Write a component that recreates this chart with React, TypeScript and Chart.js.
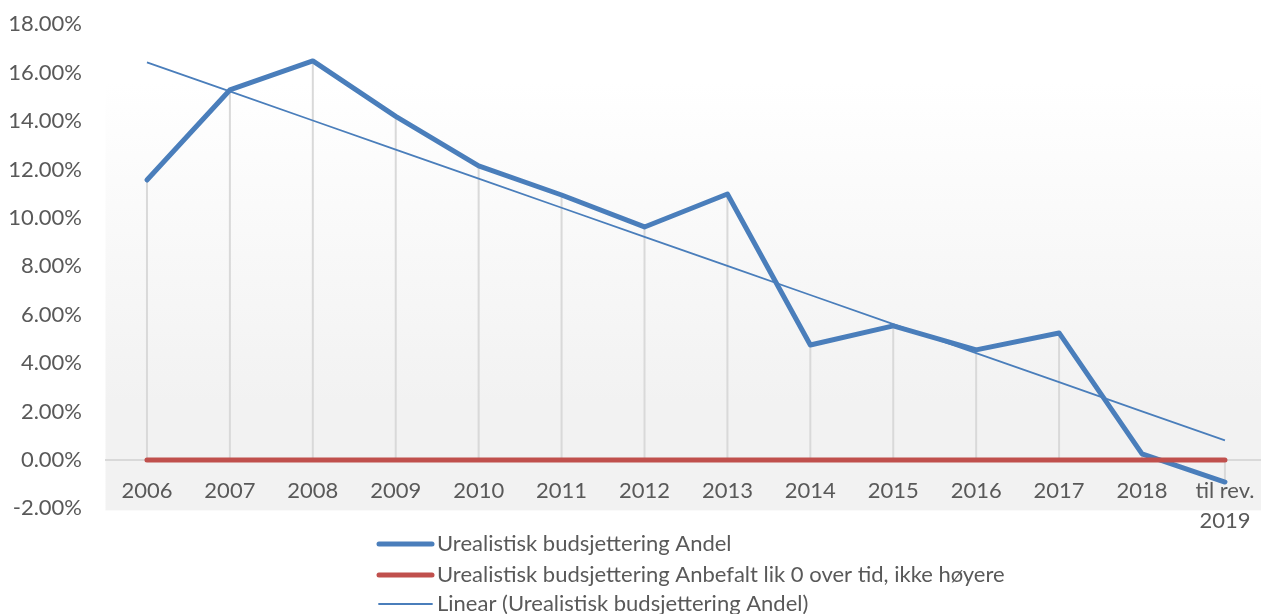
import React, { useEffect, useRef } from "react";
import { Chart, registerables } from "chart.js";

Chart.register(...registerables);

const categories: (string | string[])[] = [
  "2006", "2007", "2008", "2009", "2010", "2011", "2012",
  "2013", "2014", "2015", "2016", "2017", "2018", ["til rev.", "2019"],
];

// Urealistisk budsjettering Andel (%)
const andel = [11.57, 15.29, 16.49, 14.2, 12.15, 10.95, 9.63, 10.99, 4.75, 5.54, 4.55, 5.25, 0.25, -0.91];
// Anbefalt lik 0 over tid (%)
const anbefalt = [0, 0, 0, 0, 0, 0, 0, 0, 0, 0, 0, 0, 0, 0];

const yTicks = { min: -2, max: 18, step: 2 };

const labelMain = "Urealistisk budsjettering Andel";
const labelRed = "Urealistisk budsjettering Anbefalt lik 0 over tid, ikke høyere";
const labelTrend = "Linear (Urealistisk budsjettering Andel)";

// Linear trend (least squares), as the spreadsheet trendline does
function linearTrend(vals: number[]): number[] {
  const n = vals.length;
  const mx = (n - 1) / 2;
  const my = vals.reduce((a, b) => a + b, 0) / n;
  let sxy = 0, sxx = 0;
  vals.forEach((v, i) => { sxy += (i - mx) * (v - my); sxx += (i - mx) * (i - mx); });
  const slope = sxy / sxx;
  return vals.map((_, i) => my + slope * (i - mx));
}

const FONT = "Lato, 'Open Sans', sans-serif";
const FS = 22;
const TEXT = "#595959";

const bgPlugin = {
  id: "bgGradient",
  beforeDraw(chart: any) {
    const { ctx, chartArea } = chart;
    if (!chartArea) return;
    const g = ctx.createLinearGradient(0, chartArea.top, 0, chartArea.bottom);
    g.addColorStop(0, "#ffffff");
    g.addColorStop(0.12, "#ffffff");
    g.addColorStop(0.78, "#f2f2f2");
    g.addColorStop(1, "#f2f2f2");
    ctx.save();
    ctx.fillStyle = g;
    ctx.fillRect(chartArea.left, chartArea.top, chartArea.right - chartArea.left, chartArea.bottom - chartArea.top + 2);
    ctx.restore();
  },
};

const dropLinePlugin = {
  id: "dropLines",
  beforeDatasetsDraw(chart: any) {
    const { ctx } = chart;
    const meta = chart.getDatasetMeta(0);
    const y0 = chart.scales.y.getPixelForValue(0);
    ctx.save();
    ctx.strokeStyle = "#d9d9d9";
    ctx.lineWidth = 2;
    meta.data.forEach((pt: any) => {
      ctx.beginPath();
      ctx.moveTo(pt.x, pt.y);
      ctx.lineTo(pt.x, y0);
      ctx.stroke();
    });
    ctx.restore();
  },
};

const legendPlugin = {
  id: "customLegend",
  afterDraw(chart: any) {
    const { ctx } = chart;
    const rows = [544, 575, 604];
    const order = [0, 1, 2];
    ctx.save();
    ctx.font = `${FS}px ${FONT}`;
    ctx.textBaseline = "middle";
    ctx.textAlign = "left";
    order.forEach((di, i) => {
      const ds = chart.data.datasets[di];
      const y = rows[i];
      ctx.beginPath();
      ctx.strokeStyle = ds.borderColor;
      ctx.lineWidth = ds.borderWidth;
      ctx.lineCap = "round";
      ctx.moveTo(379, y);
      ctx.lineTo(432, y);
      ctx.stroke();
      ctx.fillStyle = TEXT;
      ctx.fillText(ds.label, 437, y);
    });
    ctx.restore();
  },
};

export default function App() {
  const ref = useRef<HTMLCanvasElement>(null);

  useEffect(() => {
    if (!ref.current) return;
    const chart = new Chart(ref.current, {
      type: "line",
      data: {
        labels: categories as any,
        datasets: [
          {
            label: labelMain,
            data: andel,
            borderColor: "#4a7ebb",
            borderWidth: 5,
            pointRadius: 0,
            borderCapStyle: "round",
            borderJoinStyle: "round",
            tension: 0,
            order: 3,
          },
          {
            label: labelRed,
            data: anbefalt,
            borderColor: "#c0504d",
            borderWidth: 5,
            pointRadius: 0,
            borderCapStyle: "round",
            tension: 0,
            order: 2,
          },
          {
            label: labelTrend,
            data: linearTrend(andel),
            borderColor: "#4a7ebb",
            borderWidth: 1.8,
            pointRadius: 0,
            tension: 0,
            order: 1,
          },
        ],
      },
      options: {
        responsive: false,
        animation: false,
        devicePixelRatio: 1,
        layout: { padding: { left: 0, right: 5.6, top: 24.4, bottom: 105.6 } },
        plugins: {
          legend: { display: false },
          tooltip: { enabled: false },
        },
        scales: {
          x: {
            type: "category",
            offset: true,
            position: { y: 0 } as any,
            grid: { display: false, drawTicks: true, tickLength: 14 },
            border: { display: true, color: "#d9d9d9", width: 2 },
            ticks: {
              autoSkip: false,
              maxRotation: 0,
              padding: 2,
              color: TEXT,
              font: { family: FONT, size: FS, lineHeight: 30 / FS },
            },
          },
          y: {
            min: yTicks.min,
            max: yTicks.max,
            grid: { display: false, drawTicks: true, tickLength: 20 },
            border: { display: false },
            afterFit(scale: any) {
              scale.width = 105.5;
            },
            ticks: {
              stepSize: yTicks.step,
              padding: 3.5,
              color: TEXT,
              font: { family: FONT, size: FS },
              callback: (v: any) => Number(v).toFixed(2) + "%",
            },
          },
        },
      },
      plugins: [bgPlugin, dropLinePlugin, legendPlugin],
    });
    return () => chart.destroy();
  }, []);

  return (
    <div style={{ position: "absolute", left: 0, top: 0, width: 1261, height: 614, overflow: "hidden", background: "#fff" }}>
      <canvas ref={ref} width={1272} height={614} style={{ display: "block", width: 1272, height: 614 }} />
    </div>
  );
}
